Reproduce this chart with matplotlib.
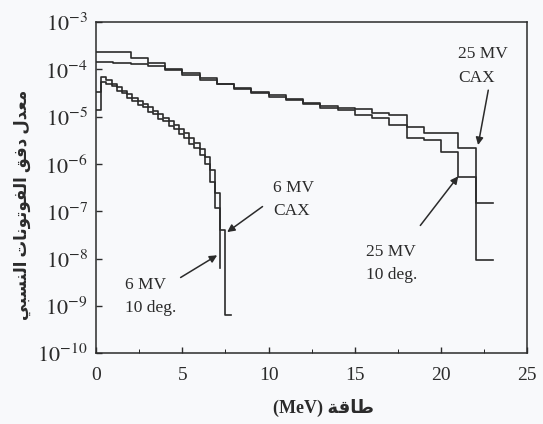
import numpy as np
from matplotlib import pyplot as plt

# 25 MV spectra, 1 MeV bins (log10 of relative fluence)
e25 = [0, 1, 2, 3, 4, 5, 6, 7, 8, 9, 10, 11, 12, 13, 14, 15, 16, 17, 18, 19, 20, 21, 22, 23]
cax25 = [-3.85, -3.87, -3.89, -3.92, -4.02, -4.12, -4.22, -4.32, -4.42, -4.51, -4.58,
         -4.63, -4.73, -4.78, -4.82, -4.84, -4.93, -4.97, -5.21, -5.34, -5.34, -5.67, -6.82]
deg25 = [-3.64, -3.64, -3.75, -3.86, -3.99, -4.08, -4.19, -4.30, -4.40, -4.48, -4.55,
         -4.65, -4.71, -4.82, -4.86, -4.97, -5.03, -5.18, -5.45, -5.50, -5.74, -6.27, -8.03]

# 6 MV spectra, 0.3 MeV bins
e6 = [0.0, 0.3, 0.6, 0.9, 1.2, 1.5, 1.8, 2.1, 2.4, 2.7, 3.0, 3.3, 3.6, 3.9, 4.2,
      4.5, 4.8, 5.1, 5.4, 5.7, 6.0, 6.3, 6.6, 6.9, 7.2, 7.5, 7.8]
cax6 = [-4.47, -4.16, -4.22, -4.30, -4.38, -4.45, -4.52, -4.60, -4.67, -4.74, -4.80,
        -4.88, -4.95, -5.03, -5.10, -5.18, -5.27, -5.35, -5.45, -5.55, -5.68, -5.85,
        -6.13, -6.62, -7.40, -9.20]
deg6 = [-4.86, -4.26, -4.30, -4.36, -4.45, -4.50, -4.60, -4.66, -4.75, -4.80, -4.90,
        -4.95, -5.05, -5.10, -5.20, -5.27, -5.37, -5.45, -5.57, -5.67, -5.80, -6.00,
        -6.38, -6.93]
deg6_end = -8.2   # drop at the last edge

xticks = [0, 5, 10, 15, 20, 25]
ydecades = list(range(-10, -2))

ylabel_ar = 'معدل دفق الفوتونات النسبي'
xlabel_ar = 'طاقة'

# crude Arabic shaping (matplotlib has no bidi / joining)
JOIN4 = {'ب': 0xFE8F, 'ت': 0xFE95, 'س': 0xFEB1, 'ط': 0xFEC1, 'ع': 0xFEC9, 'ف': 0xFED1,
         'ق': 0xFED5, 'ل': 0xFEDD, 'م': 0xFEE1, 'ن': 0xFEE5, 'ي': 0xFEF1}
JOIN2 = {'ا': 0xFE8D, 'ة': 0xFE93, 'د': 0xFEA9, 'و': 0xFEED}

def shape(text):
    out = []
    for i, ch in enumerate(text):
        prev = text[i - 1] if i > 0 else ''
        nxt = text[i + 1] if i + 1 < len(text) else ''
        after = prev in JOIN4
        before = ch in JOIN4 and (nxt in JOIN4 or nxt in JOIN2)
        if ch in JOIN4:
            out.append(chr(JOIN4[ch] + after + 2 * before))
        elif ch in JOIN2:
            out.append(chr(JOIN2[ch] + after))
        else:
            out.append(ch)
    return ''.join(reversed(out))

plt.rcParams['mathtext.fontset'] = 'stix'
serif = ['Liberation Serif', 'DejaVu Sans']
ink = '#2b2b2b'
bg = '#f8f9fb'

fig = plt.figure(figsize=(5.43, 4.24), dpi=100, facecolor=bg)
ax = fig.add_axes([0.177, 0.167, 0.794, 0.781], facecolor=bg)

def steps(edges, vals, end=None):
    y = list(10.0 ** np.array(vals))
    x = list(edges)
    if end is None:
        y = y + [y[-1]]
    else:
        x = x[:len(vals) + 1]
        y = y + [10.0 ** end]
    ax.step(x, y, where='post', color=ink, lw=1.2)

steps(e25, cax25)
steps(e25, deg25)
steps(e6, cax6)
steps(e6[:len(deg6) + 1], deg6, end=deg6_end)

ax.set_yscale('log')
ax.set_xlim(0, 25)
ax.set_ylim(1e-10, 1e-3)
ax.set_xticks(xticks)
ax.set_xticks(np.arange(0, 25.1, 2.5), minor=True)
ax.set_xticklabels([str(t) for t in xticks], family=serif, fontsize=14)
ax.set_yticks([10.0 ** d for d in ydecades])
ax.set_yticklabels([r'$10^{%d}$' % d for d in ydecades], fontsize=16)
ax.yaxis.set_minor_locator(plt.NullLocator())
ax.tick_params(direction='in', colors=ink, length=4, width=1)
ax.tick_params(axis='x', which='minor', direction='in', length=3)
ax.tick_params(axis='x', pad=10)
ax.tick_params(axis='y', pad=6)
for s in ax.spines.values():
    s.set_color(ink)
    s.set_linewidth(1.1)

arrow = dict(arrowstyle='-|>', color=ink, lw=1.1, mutation_scale=11, shrinkA=0, shrinkB=0)
notes = [
    ('25 MV\nCAX', 21.0, 10 ** -3.93, 'left', (22.15, 10 ** -5.6), (22.74, 10 ** -4.44)),
    ('6 MV\nCAX', 10.25, 10 ** -6.75, 'left', (7.6, 10 ** -7.44), (9.65, 10 ** -6.9)),
    ('6 MV\n10 deg.', 1.65, 10 ** -8.8, 'left', (7.02, 10 ** -7.93), (4.9, 10 ** -8.4)),
    ('25 MV\n10 deg.', 17.15, 10 ** -8.1, 'center', (21.0, 10 ** -6.26), (18.8, 10 ** -7.3)),
]
for label, tx, ty, ha, tip, start in notes:
    ax.text(tx, ty, label, ha=ha, va='center', family=serif, fontsize=12.5,
            color=ink, linespacing=1.6, multialignment='left')
    ax.annotate('', xy=tip, xytext=start, arrowprops=arrow)

fig.text(0.595, 0.038, '(MeV) ' + shape(xlabel_ar), ha='center', va='center',
         family=serif, fontsize=13, weight='bold', color=ink)
fig.text(0.042, 0.516, shape(ylabel_ar), rotation=90, ha='center', va='center',
         family=serif, fontsize=12, weight='bold', color=ink)

fig.savefig('out.png', dpi=100, facecolor=bg)
